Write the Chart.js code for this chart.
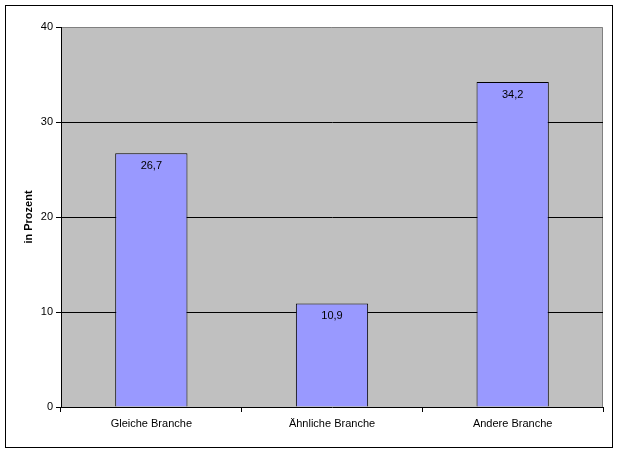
<!DOCTYPE html>
<html lang="de">
<head>
    <meta charset="UTF-8">
    <title>Branche</title>
    <script src="https://cdn.jsdelivr.net/npm/chart.js"></script>
    <style>
        html, body { margin: 0; padding: 0; background: #fff; }
        #wrap { width: 619px; height: 453px; }
    </style>
</head>
<body>
    <div id="wrap"><canvas id="chart" width="619" height="453"></canvas></div>
    <script>
        // chart data
        const categories = ['Gleiche Branche', 'Ähnliche Branche', 'Andere Branche'];
        const values = [26.7, 10.9, 34.2];
        const yTicks = [0, 10, 20, 30, 40];

        const fontFamily = '"Liberation Sans", Arial, sans-serif';

        // grey plot area, outer frame and value labels
        const excelLook = {
            id: 'excelLook',
            beforeDraw(chart) {
                const { ctx, chartArea: a } = chart;
                ctx.save();
                ctx.fillStyle = '#fff';
                ctx.fillRect(0, 0, chart.width, chart.height);
                ctx.fillStyle = '#C0C0C0';
                ctx.fillRect(a.left, a.top, a.right - a.left, a.bottom - a.top);
                ctx.strokeStyle = '#808080';
                ctx.lineWidth = 1;
                ctx.beginPath();
                ctx.moveTo(a.left, a.top + 0.5);
                ctx.lineTo(a.right - 0.5, a.top + 0.5);
                ctx.lineTo(a.right - 0.5, a.bottom);
                ctx.stroke();
                ctx.strokeStyle = '#000';
                ctx.strokeRect(5.5, 5.5, 607, 442);
                ctx.restore();
            },
            afterDatasetsDraw(chart) {
                const { ctx } = chart;
                const meta = chart.getDatasetMeta(0);
                ctx.save();
                ctx.fillStyle = '#000';
                ctx.font = '11px ' + fontFamily;
                ctx.textAlign = 'center';
                ctx.textBaseline = 'middle';
                meta.data.forEach((bar, i) => {
                    ctx.fillText(values[i].toFixed(1).replace('.', ','), bar.x, bar.y + 13);
                });
                ctx.restore();
            }
        };

        new Chart(document.getElementById('chart'), {
            type: 'bar',
            data: {
                labels: categories,
                datasets: [{
                    data: values,
                    backgroundColor: '#9999FF',
                    borderColor: '#000',
                    borderWidth: 1,
                    barPercentage: 0.4,
                    categoryPercentage: 1
                }]
            },
            options: {
                responsive: false,
                animation: false,
                devicePixelRatio: 1,
                layout: { padding: { left: 0, top: 27, right: 16, bottom: 0 } },
                plugins: { legend: { display: false }, tooltip: { enabled: false } },
                scales: {
                    x: {
                        grid: {
                            offset: true,
                            drawOnChartArea: false,
                            tickLength: 5,
                            tickColor: '#000'
                        },
                        border: { color: '#000' },
                        ticks: {
                            color: '#000',
                            padding: 5,
                            maxRotation: 0,
                            font: { family: fontFamily, size: 11 }
                        },
                        afterFit(scale) { scale.height = 46; }
                    },
                    y: {
                        min: 0,
                        max: 40,
                        afterBuildTicks(scale) {
                            scale.ticks = yTicks.map(v => ({ value: v }));
                        },
                        grid: {
                            color: c => (c.tick && c.tick.value > 0 && c.tick.value < 40) ? '#000' : 'rgba(0,0,0,0)',
                            tickColor: '#000',
                            tickLength: 5
                        },
                        border: { color: '#000' },
                        ticks: {
                            color: '#000',
                            padding: 3,
                            font: { family: fontFamily, size: 11 }
                        },
                        title: {
                            display: true,
                            text: 'in Prozent',
                            color: '#000',
                            padding: { top: 22, bottom: 0 },
                            font: { family: fontFamily, size: 11, weight: 'bold' }
                        },
                        afterFit(scale) { scale.width = 61; }
                    }
                }
            },
            plugins: [excelLook]
        });
    </script>
</body>
</html>
